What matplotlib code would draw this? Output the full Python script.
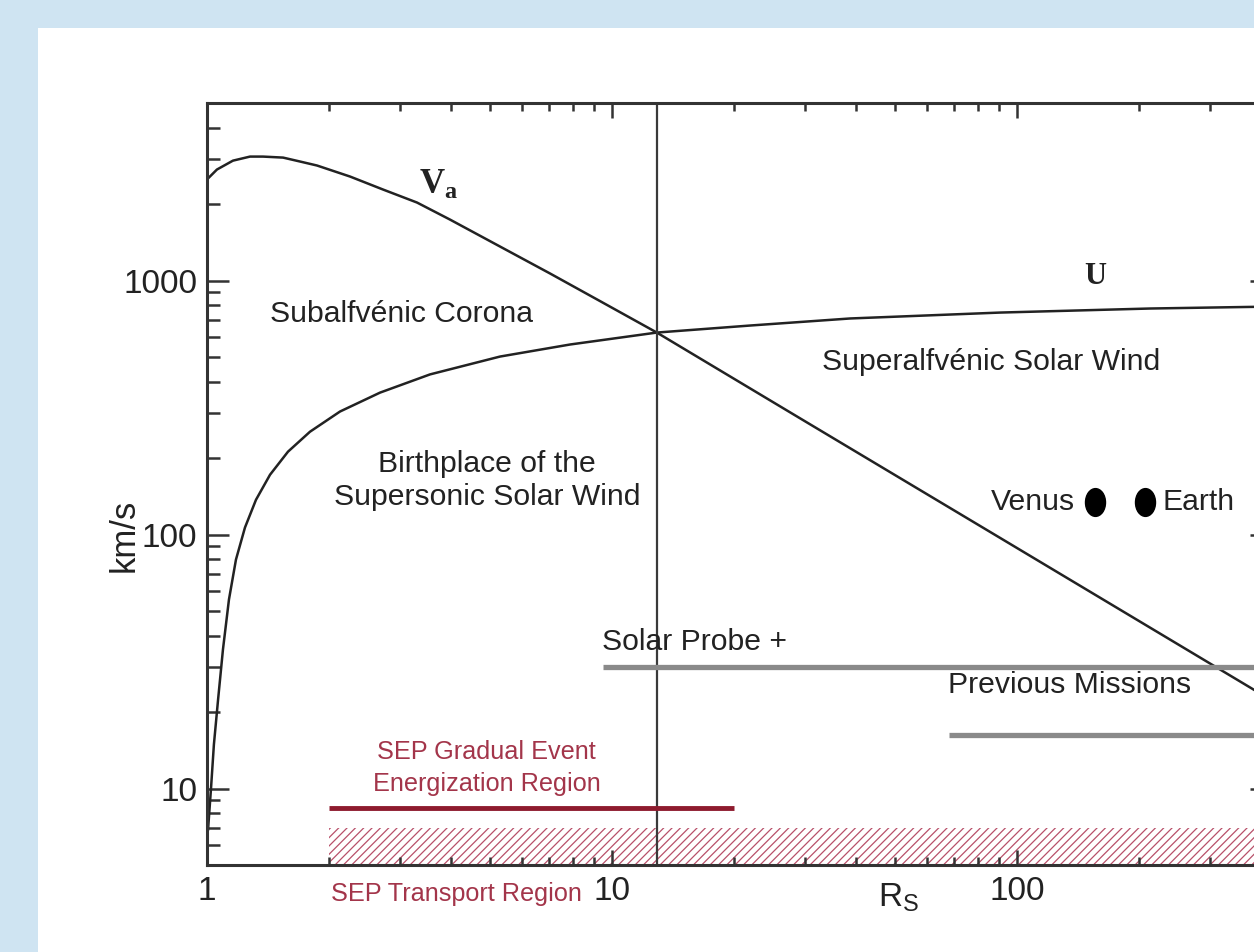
import matplotlib.pyplot as plt
import numpy as np
from matplotlib.patches import Rectangle
from matplotlib.path import Path
from matplotlib.transforms import Affine2D
from matplotlib.ticker import LogLocator, NullFormatter

plt.rcParams['font.family'] = ['Liberation Sans', 'DejaVu Sans']
plt.rcParams['mathtext.fontset'] = 'custom'
plt.rcParams['mathtext.rm'] = 'Liberation Sans'
plt.rcParams['mathtext.bf'] = 'Liberation Serif:bold'
plt.rcParams['hatch.linewidth'] = 0.9

# distance from the sun (solar radii) and speeds (km/s)
r_va = [1.0, 1.058, 1.159, 1.277, 1.375, 1.541, 1.696, 1.869, 2.255, 2.72, 3.30, 3.98,
        5.29, 7.03, 9.34, 12.9, 29.1, 90.8, 430]
va = [2500, 2735, 2965, 3076, 3076, 3048, 2942, 2837, 2567, 2282, 2028, 1738,
      1361, 1066, 830, 624, 287, 97, 22]

r_u = [1.006, 1.023, 1.040, 1.065, 1.095, 1.133, 1.179, 1.241, 1.321, 1.431, 1.585, 1.796,
       2.13, 2.674, 3.553, 5.29, 7.88, 12.9, 21.9, 38.7, 90.8, 213, 430]
u = [6.9, 10, 14.9, 22.4, 35.3, 55.5, 79.7, 106.6, 137, 172, 212, 254,
     305, 362, 427, 502, 560, 624, 665, 709, 748, 776, 790]

r_alfven = 12.9

# coverage bars: start distance and speed level
probe_start, probe_level = 9.5, 30
prev_start, prev_level = 68, 16.3
sep_start, sep_end, sep_level = 2.0, 20.0, 8.4
transport_start, transport_lo, transport_hi = 2.0, 5.0, 7.0

planets = ['Venus', 'Earth']
planet_r = [156, 207]
planet_v = [134, 134]

x_min, x_max = 1, 426
y_min, y_max = 5, 5000

ink = '#222222'
sep_red = '#8e1b2e'
sep_text = '#a3354a'
bar_gray = '#8a8a8a'

fig = plt.figure(figsize=(12.54, 9.52), dpi=100)
fig.patch.set_facecolor('#cfe4f2')
fig.add_artist(Rectangle((38 / 1254, 0), 1, 1 - 28 / 952, transform=fig.transFigure,
                         facecolor='white', edgecolor='none', zorder=-5))

ax = fig.add_axes([207 / 1254, 87 / 952, 1065 / 1254, 762 / 952])
ax.set_xscale('log')
ax.set_yscale('log')
ax.set_xlim(x_min, x_max)
ax.set_ylim(y_min, y_max)

ax.set_xticks([1, 10, 100])
ax.set_xticklabels(['1', '10', '100'])
ax.set_yticks([10, 100, 1000])
ax.set_yticklabels(['10', '100', '1000'])
for axis in (ax.xaxis, ax.yaxis):
    axis.set_minor_locator(LogLocator(base=10, subs=np.arange(2, 10), numticks=20))
    axis.set_minor_formatter(NullFormatter())

ax.tick_params(which='both', direction='in', top=True, right=True, color='#333333', width=1.8)
ax.tick_params(axis='x', which='major', length=11, labelsize=24, pad=8, labelcolor=ink)
ax.tick_params(axis='x', which='minor', length=5.5)
ax.tick_params(axis='y', which='major', length=16, labelsize=24, pad=7, labelcolor=ink)
ax.tick_params(axis='y', which='minor', length=9)
for s in ax.spines.values():
    s.set_linewidth(2.2)
    s.set_color('#333333')

# curves
ax.plot(r_va, va, color=ink, lw=1.8)
ax.plot(r_u, u, color=ink, lw=1.8)
ax.axvline(r_alfven, color='#3a3a3a', lw=1.6)

# mission bars
ax.hlines(probe_level, probe_start, x_max * 2, color=bar_gray, lw=3.8)
ax.hlines(prev_level, prev_start, x_max * 2, color=bar_gray, lw=3.8)

# SEP regions
ax.hlines(sep_level, sep_start, sep_end, color=sep_red, lw=3.5)
ax.fill_between([transport_start, x_max * 2], transport_lo, transport_hi,
                facecolor='none', edgecolor='#b8506a', hatch='////', linewidth=0)

# planets
ellipse = Path.unit_circle().transformed(Affine2D().scale(0.72, 1.0))
ax.plot(planet_r, planet_v, linestyle='none', marker=ellipse, markersize=20, color='black')

# labels
fs = 21.7
ax.text(1.43, 741, 'Subalfvénic Corona', fontsize=fs, color=ink, va='center')
ax.text(33, 480, 'Superalfvénic Solar Wind', fontsize=fs, color=ink, va='center')
ax.text(4.91, 163, 'Birthplace of the\nSupersonic Solar Wind', fontsize=fs, color=ink,
        ha='center', va='center', linespacing=1.2)
ax.text(139, planet_v[0], planets[0], fontsize=fs, color=ink, ha='right', va='center')
ax.text(229, planet_v[1], planets[1], fontsize=fs, color=ink, ha='left', va='center')
ax.text(9.45, 37.9, 'Solar Probe +', fontsize=fs, color=ink, va='center')
ax.text(67.5, 25.6, 'Previous Missions', fontsize=fs, color=ink, va='center')
ax.text(4.9, 12, 'SEP Gradual Event\nEnergization Region', fontsize=18.2, color=sep_text,
        ha='center', va='center', linespacing=1.42)
ax.text(4.12, 3.85, 'SEP Transport Region', fontsize=18.2, color=sep_text,
        ha='center', va='center')
ax.text(3.72, 2388, r'$\mathbf{V_a}$', fontsize=25, color=ink, ha='center', va='center')
ax.text(156, 1040, 'U', fontsize=22, color=ink, ha='center', va='center',
        family='Liberation Serif', weight='bold')
ax.text(51, 3.7, r'$\mathrm{R_S}$', fontsize=24, color=ink, ha='center', va='center')

fig.text(124 / 1254, 1 - 535 / 952, 'km/s', fontsize=25, color=ink, rotation=90,
         ha='center', va='center')

fig.savefig('out.png', dpi=100, facecolor=fig.get_facecolor())
